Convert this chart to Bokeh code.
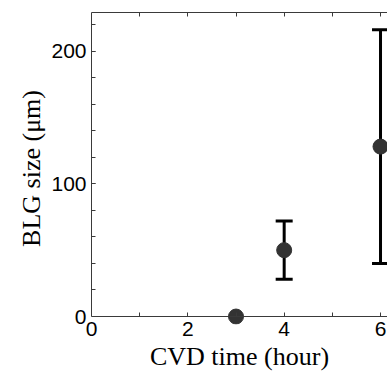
from bokeh.plotting import figure
from bokeh.models import Range1d, LinearAxis, FixedTicker, Whisker, TeeHead, ColumnDataSource
from bokeh.embed import file_html
from bokeh.resources import INLINE

# data
cvd_time = [3, 4, 6]
blg_size = [0, 50, 128]
err_lower = [0, 28, 40]
err_upper = [0, 72, 216]

x_major = [0, 2, 4, 6]
x_minor = [1, 2, 3, 4, 5, 6]
y_major = [0, 100, 200]
y_minor = [20, 40, 60, 80, 100, 120, 140, 160, 180, 200, 220]

src = ColumnDataSource(dict(x=cvd_time, y=blg_size))
esrc = ColumnDataSource(dict(x=cvd_time[1:], lo=err_lower[1:], hi=err_upper[1:]))

p = figure(width=387, height=376, output_backend="svg", toolbar_location=None,
           x_range=Range1d(0, 6.145), y_range=Range1d(-6, 229),
           x_axis_location=None, y_axis_location=None,
           min_border_left=91, min_border_right=0, min_border_top=12, min_border_bottom=52)
p.outline_line_color = None
p.xgrid.visible = False
p.ygrid.visible = False
p.background_fill_color = "white"
p.border_fill_color = "white"

axis_color = "#3a3a3a"
tick_font = "Liberation Sans"
lab_font = "Liberation Serif"

def style(ax):
    ax.axis_line_color = axis_color
    ax.axis_line_width = 1
    ax.major_tick_line_color = axis_color
    ax.minor_tick_line_color = axis_color
    ax.major_tick_in = 4
    ax.major_tick_out = 0
    ax.minor_tick_in = 4
    ax.minor_tick_out = 0
    ax.major_label_text_font = tick_font
    ax.major_label_text_font_size = "21px"
    ax.major_label_text_color = "black"
    ax.axis_label_text_font = lab_font
    ax.axis_label_text_font_size = "26px"
    ax.axis_label_text_font_style = "normal"
    ax.axis_label_text_color = "black"

# x axis line and ticks sitting at y = 0
xline = LinearAxis(ticker=FixedTicker(ticks=[], minor_ticks=x_minor), fixed_location=0)
style(xline)
p.add_layout(xline, "below")

# x tick labels and title
xax = LinearAxis(ticker=FixedTicker(ticks=x_major, minor_ticks=[]),
                 axis_label="CVD time (hour)")
style(xax)
xax.axis_line_color = None
xax.major_tick_line_color = None
xax.minor_tick_line_color = None
xax.major_tick_in = 0
xax.minor_tick_in = 0
xax.major_label_standoff = -3
xax.axis_label_standoff = 3
p.add_layout(xax, "below")

yax = LinearAxis(ticker=FixedTicker(ticks=y_major, minor_ticks=y_minor),
                 axis_label="BLG size (μm)", bounds=(0, 229))
style(yax)
yax.major_label_standoff = 5
yax.axis_label_standoff = 2
p.add_layout(yax, "left")

tax = LinearAxis(ticker=FixedTicker(ticks=[], minor_ticks=x_minor))
style(tax)
p.add_layout(tax, "above")

w = Whisker(source=esrc, base="x", lower="lo", upper="hi", dimension="height",
            line_color="black", line_width=3,
            upper_head=TeeHead(size=17, line_width=3, line_color="black"),
            lower_head=TeeHead(size=17, line_width=3, line_color="black"))
p.add_layout(w)

p.scatter("x", "y", source=src, size=15, marker="circle", fill_color="#333333", line_color="#333333")

open("out.html", "w").write(file_html(p, INLINE))
